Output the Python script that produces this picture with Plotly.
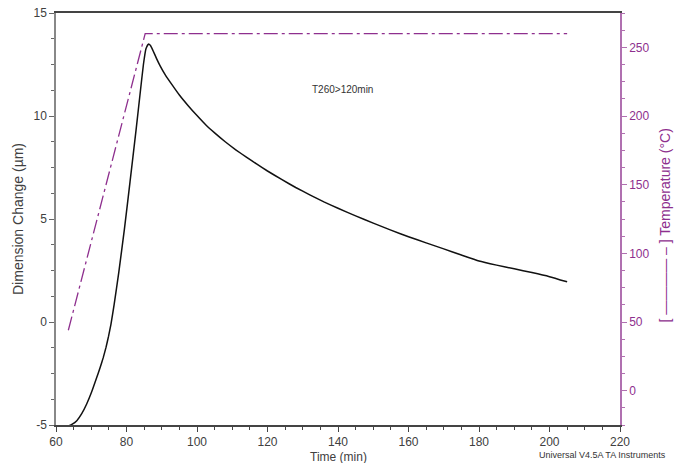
import plotly.graph_objects as go

# Dimension change curve (min, µm)
time_dim = [63.5, 64.5, 65.9, 67.3, 68.7, 70.1, 71.5, 72.5, 73.4, 74.2, 74.9, 75.6,
            76.5, 77.8, 79.4, 81.0, 82.7, 84.0, 84.8, 85.5, 86.2, 86.8, 87.5,
            88.5, 89.5, 91.0, 93.0, 95.0, 97.5, 100.0, 102.6, 105.0, 108.0,
            111.0, 114.0, 117.0, 120.0, 124.0, 128.0, 132.0, 136.0, 140.0,
            145.0, 150.0, 155.0, 160.0, 165.0, 170.0, 175.0, 180.0, 185.0,
            190.0, 195.0, 200.0, 205.0]
dim_change = [-5.05, -4.97, -4.79, -4.45, -3.98, -3.40, -2.72, -2.22, -1.73, -1.22, -0.70, -0.10,
              0.85, 2.40, 4.50, 6.80, 9.30, 11.30, 12.50, 13.25, 13.49, 13.42, 13.18,
              12.80, 12.45, 12.00, 11.50, 11.02, 10.50, 10.02, 9.55, 9.18, 8.75,
              8.36, 8.00, 7.66, 7.33, 6.92, 6.53, 6.17, 5.83, 5.52,
              5.15, 4.80, 4.46, 4.14, 3.84, 3.55, 3.25, 2.96, 2.76,
              2.58, 2.40, 2.20, 1.95]

# Temperature program (min, °C)
time_temp = [63.5, 85.3, 205.0]
temperature = [44, 260, 260]

x_ticks = [60, 80, 100, 120, 140, 160, 180, 200, 220]
y_ticks = [-5, 0, 5, 10, 15]
y_ticklabels = ["-5", "0", "5", "10", "15"]
y2_ticks = [0, 50, 100, 150, 200, 250]

PURPLE = "#8e2f8e"
PURPLE_AXIS = "#b070b0"
GRAY_TXT = "#404040"
FONT = "Liberation Sans, Arial, sans-serif"

fig = go.Figure()
fig.add_trace(go.Scatter(x=time_dim, y=dim_change, mode="lines",
                         line=dict(color="#111111", width=1.5, shape="spline", smoothing=0.4),
                         showlegend=False, yaxis="y"))
fig.add_trace(go.Scatter(x=time_temp, y=temperature, mode="lines",
                         line=dict(color=PURPLE, width=1.3, dash="14px,4px,3px,4px"),
                         showlegend=False, yaxis="y2"))

fig.update_layout(
    width=677, height=463,
    margin=dict(l=56, r=57, t=13, b=38),
    paper_bgcolor="white", plot_bgcolor="white",
    font=dict(family=FONT, size=12, color=GRAY_TXT),
    xaxis=dict(range=[60, 220], tickvals=x_ticks, showgrid=False, zeroline=False,
               automargin=False,
               showline=True, linecolor="#444444", linewidth=1.5, mirror=True,
               ticks="outside", ticklen=5, tickcolor="#444444",
               minor=dict(dtick=5, ticks="outside", ticklen=3, tickcolor="#444444"),
               tickfont=dict(size=12, color=GRAY_TXT)),
    yaxis=dict(range=[-5, 15], tickvals=y_ticks, ticktext=y_ticklabels, showgrid=False,
               automargin=False,
               zeroline=False, showline=True, linecolor="#888888", linewidth=1.5,
               ticks="outside", ticklen=5, tickcolor="#666666",
               minor=dict(dtick=1.25, tick0=0, ticks="outside", ticklen=3, tickcolor="#666666"),
               tickfont=dict(size=12, color=GRAY_TXT)),
    yaxis2=dict(range=[-25, 275], tickvals=y2_ticks, overlaying="y", side="right",
                automargin=False,
                showgrid=False, zeroline=False, showline=True, linecolor=PURPLE_AXIS,
                linewidth=1.5, ticks="outside", ticklen=5, tickcolor=PURPLE_AXIS,
                minor=dict(dtick=12.5, tick0=0, ticks="outside", ticklen=3, tickcolor=PURPLE_AXIS),
                tickfont=dict(size=12, color=PURPLE)),
    annotations=[
        dict(x=132, y=11.28, xref="x", yref="y", text="T260>120min", showarrow=False,
             xanchor="left", yanchor="middle", font=dict(size=10, color="#333333")),
        dict(x=0.853, y=-0.0728, xref="paper", yref="paper", text="Universal V4.5A TA Instruments",
             showarrow=False, xanchor="left", yanchor="middle", font=dict(size=9, color="#333333")),
        dict(x=0.5, y=-0.0558, xref="paper", yref="paper", text="Time (min)",
             showarrow=False, xanchor="center", yanchor="top", font=dict(size=12, color=GRAY_TXT)),
        dict(x=-0.0674, y=0.5, xref="paper", yref="paper", text="Dimension Change (µm)",
             showarrow=False, xanchor="center", yanchor="middle", textangle=-90,
             font=dict(size=14, color=GRAY_TXT)),
        dict(x=1.0798, y=0.484, xref="paper", yref="paper", text="[ ―――― – ] Temperature (°C)",
             showarrow=False, xanchor="center", yanchor="middle", textangle=-90,
             font=dict(size=14, color=PURPLE)),
    ],
)

fig.write_html("out.html")
